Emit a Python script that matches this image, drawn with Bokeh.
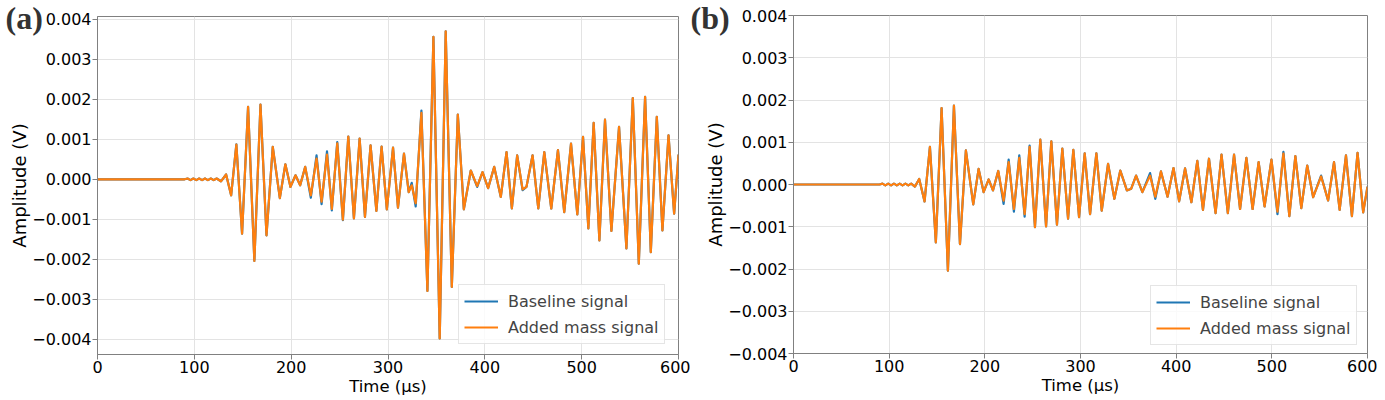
from bokeh.plotting import figure
from bokeh.models import (FixedTicker, CustomJSTickFormatter, Legend, LegendItem,
                          Label, Range1d, GridBox)
from bokeh.embed import file_html
from bokeh.resources import INLINE
import numpy as np

# ---------------- data (time in microseconds, amplitude in mV) ----------------
time_a = [0, 90, 93, 96, 99, 102, 105, 108, 111, 114, 117, 120, 123, 127.5, 132.8,
          138, 143.4, 149.3, 155.5, 162, 168.3, 174.5, 181, 188.3, 194, 199.3, 204.5,
          209.3, 214.5, 220.3, 226.2, 231.4, 237, 242, 247.6, 253.4, 259, 264.8,
          270.7, 276.2, 282, 288, 293.4, 298.8, 305.2, 310.3, 316.5, 321.4, 324.5,
          328.6, 334.5, 340.7, 346.9, 353.4, 359.6, 365.9, 372.1, 378.3, 385.5,
          392.1, 397.6, 403.4, 409.7, 416.5, 422.4, 427.9, 433.4, 439, 443, 449.3,
          455.2, 461.4, 468.6, 475.5, 482, 489, 495.5, 501.4, 506.9, 512.4, 518.3,
          524.1, 530.7, 538.6, 546.2, 552.8, 559, 565.5, 571.4, 577.6, 583.4, 589.7,
          595.5, 600]
baseline_a = [0, 0, 0.02, -0.02, 0.02, -0.02, 0.02, -0.02, 0.02, -0.02, 0.02, -0.02,
              0.02, -0.05, 0.12, -0.40, 0.875, -1.36, 1.81, -2.04, 1.87, -1.40, 0.81,
              -0.47, 0.375, -0.19, 0.10, -0.15, 0.31, -0.46, 0.60, -0.62, 0.70, -0.78,
              0.93, -1.02, 1.07, -0.98, 1.02, -0.94, 0.85, -0.79, 0.82, -0.75, 0.79,
              -0.71, 0.64, -0.32, -0.09, -0.68, 1.72, -2.79, 3.56, -3.98, 3.70, -2.69,
              1.62, -0.75, 0.22, -0.19, 0.18, -0.22, 0.31, -0.44, 0.68, -0.73, 0.60,
              -0.27, -0.19, 0.60, -0.73, 0.68, -0.73, 0.73, -0.82, 0.89, -0.88, 1.06,
              -1.23, 1.41, -1.53, 1.49, -1.29, 1.31, -1.73, 2.03, -2.11, 2.06, -1.82,
              1.56, -1.28, 1.10, -0.86, 0.62]
added_a = [0, 0, 0.02, -0.02, 0.02, -0.02, 0.02, -0.02, 0.02, -0.02, 0.02, -0.02,
           0.02, -0.05, 0.12, -0.40, 0.87, -1.36, 1.81, -2.04, 1.87, -1.40, 0.81,
           -0.47, 0.375, -0.19, 0.10, -0.15, 0.31, -0.40, 0.52, -0.56, 0.62, -0.74,
           0.90, -1.01, 1.07, -0.98, 1.02, -0.94, 0.85, -0.79, 0.82, -0.75, 0.79,
           -0.71, 0.64, -0.32, -0.15, -0.60, 1.66, -2.79, 3.56, -3.98, 3.70, -2.69,
           1.62, -0.75, 0.22, -0.17, 0.18, -0.22, 0.31, -0.44, 0.68, -0.73, 0.60,
           -0.25, -0.19, 0.60, -0.73, 0.68, -0.73, 0.73, -0.82, 0.89, -0.88, 1.06,
           -1.23, 1.41, -1.53, 1.49, -1.29, 1.31, -1.73, 2.03, -2.11, 2.06, -1.82,
           1.56, -1.28, 1.10, -0.86, 0.62]

time_b = [0, 90, 93, 96, 99, 102, 105, 108, 111, 114, 117, 120, 123, 126.9, 131.4,
          137, 142.6, 148.8, 154.8, 161.4, 167.7, 174, 180.2, 187.9, 193.5, 198.7,
          204, 208.5, 214, 219.6, 224.9, 230.4, 236, 241.6, 246.8, 252.4, 258, 264,
          269.5, 275.4, 281, 287, 292.5, 298.5, 304.4, 310, 316.6, 322.2, 328.8,
          335.4, 341.6, 348.5, 353, 358.1, 364.7, 372.7, 378.2, 384.1, 391, 397.2,
          403.1, 409.3, 415.9, 422.1, 428, 434.3, 441.2, 447.4, 454, 460.5, 466.8,
          473.4, 479.9, 486.2, 492.4, 499.6, 505.9, 512.1, 518.3, 524.6, 530.8, 537,
          543.2, 551.5, 558.8, 565, 570.9, 577.5, 583.7, 589.6, 595.5, 600]
baseline_b = [0, 0, 0.02, -0.02, 0.02, -0.02, 0.02, -0.02, 0.02, -0.02, 0.02, -0.02,
              0.02, -0.05, 0.13, -0.40, 0.89, -1.37, 1.81, -2.04, 1.87, -1.41, 0.81,
              -0.47, 0.37, -0.18, 0.12, -0.14, 0.32, -0.46, 0.59, -0.64, 0.69, -0.76,
              0.92, -1.01, 1.06, -0.99, 1.02, -0.95, 0.85, -0.81, 0.82, -0.77, 0.74,
              -0.70, 0.74, -0.62, 0.49, -0.34, 0.33, -0.14, -0.10, 0.21, -0.18, 0.27,
              -0.34, 0.31, -0.29, 0.39, -0.40, 0.38, -0.42, 0.56, -0.60, 0.61, -0.68,
              0.71, -0.68, 0.71, -0.58, 0.63, -0.58, 0.53, -0.52, 0.59, -0.70, 0.77,
              -0.75, 0.67, -0.56, 0.45, -0.30, 0.21, -0.38, 0.53, -0.60, 0.69, -0.75,
              0.75, -0.66, -0.05]
added_b = [0, 0, 0.02, -0.02, 0.02, -0.02, 0.02, -0.02, 0.02, -0.02, 0.02, -0.02,
           0.02, -0.05, 0.13, -0.40, 0.89, -1.37, 1.81, -2.04, 1.87, -1.41, 0.81,
           -0.47, 0.37, -0.18, 0.12, -0.14, 0.32, -0.38, 0.53, -0.58, 0.63, -0.70,
           0.89, -1.01, 1.06, -0.99, 1.02, -0.95, 0.85, -0.81, 0.82, -0.77, 0.74,
           -0.70, 0.74, -0.62, 0.49, -0.34, 0.33, -0.14, -0.10, 0.21, -0.18, 0.21,
           -0.29, 0.31, -0.29, 0.39, -0.40, 0.38, -0.42, 0.56, -0.60, 0.61, -0.68,
           0.71, -0.68, 0.71, -0.58, 0.63, -0.58, 0.53, -0.52, 0.59, -0.64, 0.73,
           -0.75, 0.67, -0.56, 0.45, -0.30, 0.19, -0.38, 0.53, -0.60, 0.69, -0.75,
           0.75, -0.66, -0.05]

x_ticks = [0, 100, 200, 300, 400, 500, 600]
y_ticks = [-0.004, -0.003, -0.002, -0.001, 0.0, 0.001, 0.002, 0.003, 0.004]
series_labels = ["Baseline signal", "Added mass signal"]
panel_tags = ["(a)", "(b)"]
x_title = "Time (µs)"
y_title = "Amplitude (V)"

BLUE = "#1f77b4"
ORANGE = "#ff7f0e"
SPINE = "#808080"
FONT = "DejaVu Sans"
FIG_H = 400

yfmt_code = """
if (Math.abs(tick) < 1e-12) { return "0.000"; }
const s = Math.abs(tick).toFixed(3);
return tick < 0 ? "\u2212" + s : s;
"""


def make_panel(t, base, added, yr, width, bl, br, bt, bb, legend_xy):
    p = figure(width=width, height=FIG_H, output_backend="svg",
               toolbar_location=None, x_range=Range1d(0, 600), y_range=Range1d(*yr),
               min_border_left=bl, min_border_right=br, min_border_top=bt,
               min_border_bottom=bb, frame_align=False)
    p.background_fill_color = "white"
    p.border_fill_color = "white"
    p.outline_line_color = SPINE
    p.outline_line_width = 1

    tt = np.array(t, dtype=float)
    r1 = p.line(tt, np.array(base) * 1e-3, line_color=BLUE, line_width=2.2,
                line_join="round")
    r2 = p.line(tt, np.array(added) * 1e-3, line_color=ORANGE, line_width=2.2,
                line_join="round")

    p.xaxis.ticker = FixedTicker(ticks=x_ticks)
    p.yaxis.ticker = FixedTicker(ticks=y_ticks)
    p.yaxis.formatter = CustomJSTickFormatter(code=yfmt_code)
    for ax in (p.xaxis, p.yaxis):
        ax.axis_line_color = SPINE
        ax.major_tick_line_color = SPINE
        ax.major_tick_out = 5
        ax.major_tick_in = 0
        ax.minor_tick_line_color = None
        ax.major_label_text_font = FONT
        ax.major_label_text_font_size = "16px"
        ax.major_label_text_color = "black"
        ax.axis_label_text_font = FONT
        ax.axis_label_text_font_style = "normal"
        ax.axis_label_text_color = "black"
    p.xaxis.axis_label = x_title
    p.yaxis.axis_label = y_title
    p.xaxis.axis_label_text_font_size = "16.5px"
    p.yaxis.axis_label_text_font_size = "18px"
    p.xaxis.major_label_standoff = 1
    p.yaxis.major_label_standoff = 1
    p.xaxis.axis_label_standoff = 1
    p.yaxis.axis_label_standoff = -1
    p.xgrid.grid_line_color = "#e3e3e3"
    p.ygrid.grid_line_color = "#e3e3e3"
    p.xgrid.grid_line_width = 1
    p.ygrid.grid_line_width = 1

    legend = Legend(items=[LegendItem(label=series_labels[0], renderers=[r1]),
                           LegendItem(label=series_labels[1], renderers=[r2])],
                    location=legend_xy)
    legend.label_text_font = FONT
    legend.label_text_font_size = "16px"
    legend.glyph_width = 34
    legend.glyph_height = 22
    legend.label_height = 22
    legend.label_standoff = 10
    legend.padding = 5
    legend.spacing = 4
    legend.margin = 0
    legend.border_line_color = "#cccccc"
    legend.border_line_width = 1
    legend.background_fill_alpha = 0.8
    p.add_layout(legend)
    return p


def make_tag(text, width, x, y_from_top):
    # transparent overlay figure, same size as the panel, carrying the panel letter
    t = figure(width=width, height=FIG_H, output_backend="svg", toolbar_location=None,
               x_range=Range1d(0, 1), y_range=Range1d(0, 1),
               x_axis_location=None, y_axis_location=None,
               min_border_left=0, min_border_right=0, min_border_top=0,
               min_border_bottom=0, frame_align=False)
    t.outline_line_color = None
    t.background_fill_alpha = 0
    t.border_fill_alpha = 0
    t.grid.visible = False
    t.add_layout(Label(x=x, y=FIG_H - y_from_top, x_units="screen", y_units="screen",
                       text=text, text_align="left", text_baseline="alphabetic",
                       text_font="Liberation Serif", text_font_style="bold",
                       text_font_size="32px", text_color="#333333"))
    return t


pa = make_panel(time_a, baseline_a, added_a, (-0.00438, 0.00407),
                width=690, bl=97, br=12, bt=16, bb=46, legend_xy=(361, 10))
pb = make_panel(time_b, baseline_b, added_b, (-0.004, 0.004),
                width=687, bl=103, br=10, bt=15, bb=47, legend_xy=(357, 8))
ta = make_tag(panel_tags[0], 690, 5, 17.0)
tb = make_tag(panel_tags[1], 687, 0, 17.2)

layout = GridBox(children=[(pa, 0, 0), (ta, 0, 0), (pb, 0, 1), (tb, 0, 1)])
open("out.html", "w", encoding="utf-8").write(file_html(layout, INLINE))
